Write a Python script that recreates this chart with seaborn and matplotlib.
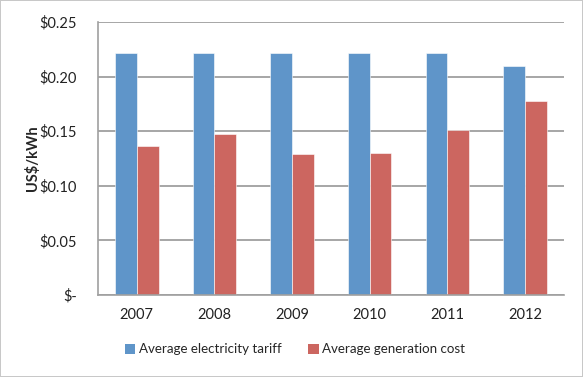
import matplotlib
matplotlib.use("Agg")
import matplotlib.pyplot as plt
import seaborn as sns
import pandas as pd
from matplotlib.patches import Patch

years = ["2007", "2008", "2009", "2010", "2011", "2012"]
tariff = [0.222, 0.222, 0.222, 0.222, 0.222, 0.210]
gen_cost = [0.136, 0.147, 0.129, 0.130, 0.151, 0.178]
series_names = ["Average electricity tariff", "Average generation cost"]
colors = ["#5F95C9", "#CC6660"]
ytick_vals = [0.0, 0.05, 0.10, 0.15, 0.20, 0.25]
ytick_labels = ["$-", "$0.05", "$0.10", "$0.15", "$0.20", "$0.25"]

df = pd.DataFrame({
    "year": years * 2,
    "value": tariff + gen_cost,
    "series": [series_names[0]] * len(years) + [series_names[1]] * len(years),
})

sns.set_style("white")
plt.rcParams["font.family"] = ["Lato", "DejaVu Sans"]

fig = plt.figure(figsize=(5.83, 3.77), dpi=100, linewidth=1.2, edgecolor="#C8C8C8")
ax = fig.add_axes([0.168, 0.2175, 0.799, 0.7241])

sns.barplot(data=df, x="year", y="value", hue="series", palette=colors,
            width=0.56, gap=0, ax=ax, legend=False, saturation=1,
            edgecolor="white", linewidth=0.4)

ax.set_ylim(0, 0.25)
ax.set_xlim(-0.5, len(years) - 0.5)
ax.set_yticks(ytick_vals)
ax.set_yticklabels(ytick_labels, fontsize=10.5, color="#222222")
ax.yaxis.grid(True, color="#A6A6A6", linewidth=1.4)
ax.set_axisbelow(True)
ax.set_xticks(range(len(years)))
ax.set_xticklabels(years, fontsize=10.5, color="#222222")
ax.set_xticks([i - 0.5 for i in range(len(years) + 1)], minor=True)
ax.tick_params(axis="x", which="major", length=0, pad=9)
ax.tick_params(axis="x", which="minor", length=5, width=1, color="#A0A0A0", direction="out")
ax.tick_params(axis="y", which="major", length=5, width=1, color="#A0A0A0", direction="out", pad=10)

for s in ["top", "right"]:
    ax.spines[s].set_visible(False)
for s in ["left", "bottom"]:
    ax.spines[s].set_color("#A0A0A0")
    ax.spines[s].set_linewidth(1.2)

ax.set_xlabel("")
ax.set_ylabel("US$/kWh", fontsize=10.5, fontweight="bold", labelpad=0)

handles = [Patch(facecolor=c, edgecolor="none") for c in colors]
fig.legend(handles, series_names, loc="center", bbox_to_anchor=(0.506, 0.073),
           ncol=2, frameon=False, fontsize=9.6, handlelength=0.8, handleheight=0.8,
           handletextpad=0.25, columnspacing=2.0)

fig.savefig("out.png", dpi=100, edgecolor=fig.get_edgecolor())
